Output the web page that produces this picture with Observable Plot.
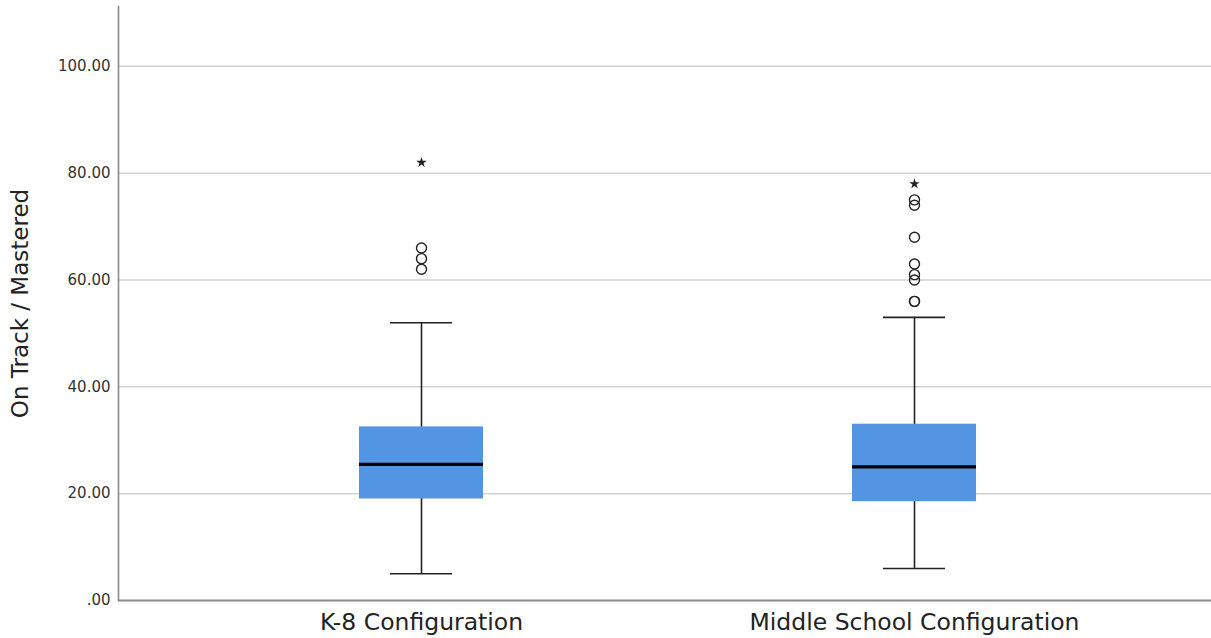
<!DOCTYPE html>
<html>
<head>
<meta charset="utf-8">
<script src="https://cdn.jsdelivr.net/npm/d3@7"></script>
<script src="https://cdn.jsdelivr.net/npm/@observablehq/plot@0.6"></script>
<style>
  html, body { margin: 0; padding: 0; background: #fff; }
  #chart { width: 1211px; height: 638px; }
</style>
</head>
<body>
<div id="chart"></div>
<script>
const categories = ["K-8 Configuration", "Middle School Configuration"];
const whiskerLow  = [5.0, 6.0];
const q1          = [19.0, 18.5];
const median      = [25.5, 25.0];
const q3          = [32.5, 33.0];
const whiskerHigh = [52.0, 53.0];
const outlierCat  = ["K-8 Configuration", "K-8 Configuration", "K-8 Configuration",
                     "Middle School Configuration", "Middle School Configuration", "Middle School Configuration",
                     "Middle School Configuration", "Middle School Configuration", "Middle School Configuration",
                     "Middle School Configuration", "Middle School Configuration"];
const outlierVal  = [66, 64, 62, 75, 74, 68, 63, 61, 60, 56, 56];
const extremeCat  = ["K-8 Configuration", "Middle School Configuration"];
const extremeVal  = [82, 78];
const yTicks      = [0, 20, 40, 60, 80, 100];
const yTitle      = "On Track / Mastered";

const boxes = categories.map((c, i) => ({
  cat: c, lo: whiskerLow[i], q1: q1[i], med: median[i], q3: q3[i], hi: whiskerHigh[i]
}));
const outliers = outlierCat.map((c, i) => ({cat: c, v: outlierVal[i]}));
const extremes = extremeCat.map((c, i) => ({cat: c, v: extremeVal[i]}));

const font = "'DejaVu Sans', sans-serif";
const chart = Plot.plot({
  width: 1211,
  height: 638,
  marginLeft: 118,
  marginRight: 0,
  marginTop: 6,
  marginBottom: 38,
  style: {fontFamily: font, color: "#222", background: "#fff"},
  x: {type: "band", domain: categories, paddingInner: 0.749, paddingOuter: 0.481, align: 0.505},
  y: {domain: [0, 111.2]},
  marks: [
    Plot.ruleY(yTicks.filter(d => d > 0), {stroke: "#d2d2d2", strokeWidth: 1.5}),
    Plot.axisY(yTicks, {tickSize: 0, tickPadding: 8, fontSize: 15, label: null, fill: "#333",
      tickFormat: d => d === 0 ? ".00" : d.toFixed(2)}),
    Plot.axisX({tickSize: 0, tickPadding: 13, fontSize: 23.5, label: null, fill: "#222"}),
    Plot.text([yTitle], {frameAnchor: "left", dx: -98, rotate: -90, fontSize: 23, fill: "#222", textAnchor: "middle", lineAnchor: "middle"}),
    Plot.ruleX(boxes, {x: "cat", y1: "lo", y2: "hi", stroke: "#222", strokeWidth: 1.6}),
    Plot.tickY(boxes, {x: "cat", y: "lo", stroke: "#222", strokeWidth: 1.6, inset: 31}),
    Plot.tickY(boxes, {x: "cat", y: "hi", stroke: "#222", strokeWidth: 1.6, inset: 31}),
    Plot.barY(boxes, {x: "cat", y1: "q1", y2: "q3", fill: "#5394E3"}),
    Plot.tickY(boxes, {x: "cat", y: "med", stroke: "#000", strokeWidth: 3.2}),
    Plot.dot(outliers, {x: "cat", y: "v", r: 5, stroke: "#222", strokeWidth: 1.4, fill: "none"}),
    Plot.dot(extremes, {x: "cat", y: "v", symbol: "star", r: 3.3, fill: "#222", stroke: "none"}),
    Plot.frame({anchor: "left", stroke: "#8a8a8a", strokeWidth: 1.6}),
    Plot.ruleY([0], {stroke: "#8a8a8a", strokeWidth: 1.8})
  ]
});
document.getElementById("chart").appendChild(chart);
</script>
</body>
</html>
